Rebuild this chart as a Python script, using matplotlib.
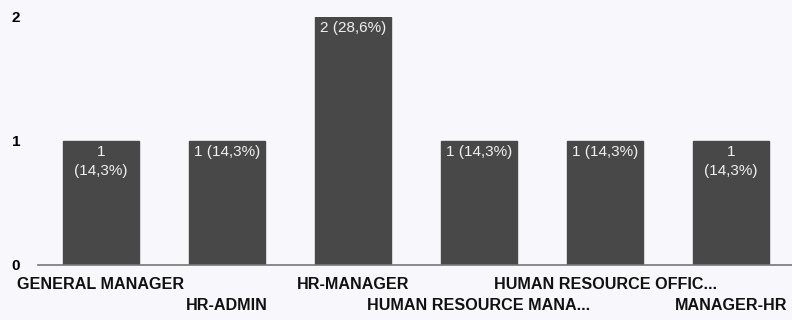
import matplotlib.pyplot as plt

jobs = ['GENERAL MANAGER', 'HR-ADMIN', 'HR-MANAGER',
        'HUMAN RESOURCE MANA...', 'HUMAN RESOURCE OFFIC...', 'MANAGER-HR']
counts = [1, 1, 2, 1, 1, 1]
bar_text = ['1\n(14,3%)', '1 (14,3%)', '2 (28,6%)',
            '1 (14,3%)', '1 (14,3%)', '1\n(14,3%)']
yticks = [0, 1, 2]

plt.rcParams['font.family'] = ['Liberation Sans', 'DejaVu Sans']

bg = '#f8f7fb'
fig = plt.figure(figsize=(7.92, 3.2), dpi=100, facecolor=bg)
ax = fig.add_axes([38 / 792, 55 / 320, 756 / 792, 248 / 320], facecolor=bg)

x = list(range(len(jobs)))
ax.bar(x, counts, width=0.61, color='#484848', edgecolor='#484848')

for i, (c, t) in enumerate(zip(counts, bar_text)):
    ax.text(i, c - 0.035, t, ha='center', va='top', color='#f0f0f0',
            fontsize=11, linespacing=1.4)

ax.set_xlim(-0.5, 5.5)
ax.set_ylim(0, 2)
ax.set_yticks(yticks)
ax.set_yticklabels([str(v) for v in yticks], fontsize=11, fontweight='bold')
ax.tick_params(axis='y', length=0, pad=19)
for lab in ax.get_yticklabels():
    lab.set_horizontalalignment('left')
ax.set_xticks([])

# stagger category names on two rows
for i, name in enumerate(jobs):
    yoff = -0.077 if i % 2 == 0 else -0.163
    ax.text(i, yoff, name, ha='center', va='center', fontsize=11.6,
            fontweight='bold', color='#111111',
            transform=ax.get_xaxis_transform())

for s in ['top', 'right', 'left']:
    ax.spines[s].set_visible(False)
ax.spines['bottom'].set_color('#777777')
ax.spines['bottom'].set_linewidth(1.2)

fig.savefig('out.png', dpi=100, facecolor=bg)
